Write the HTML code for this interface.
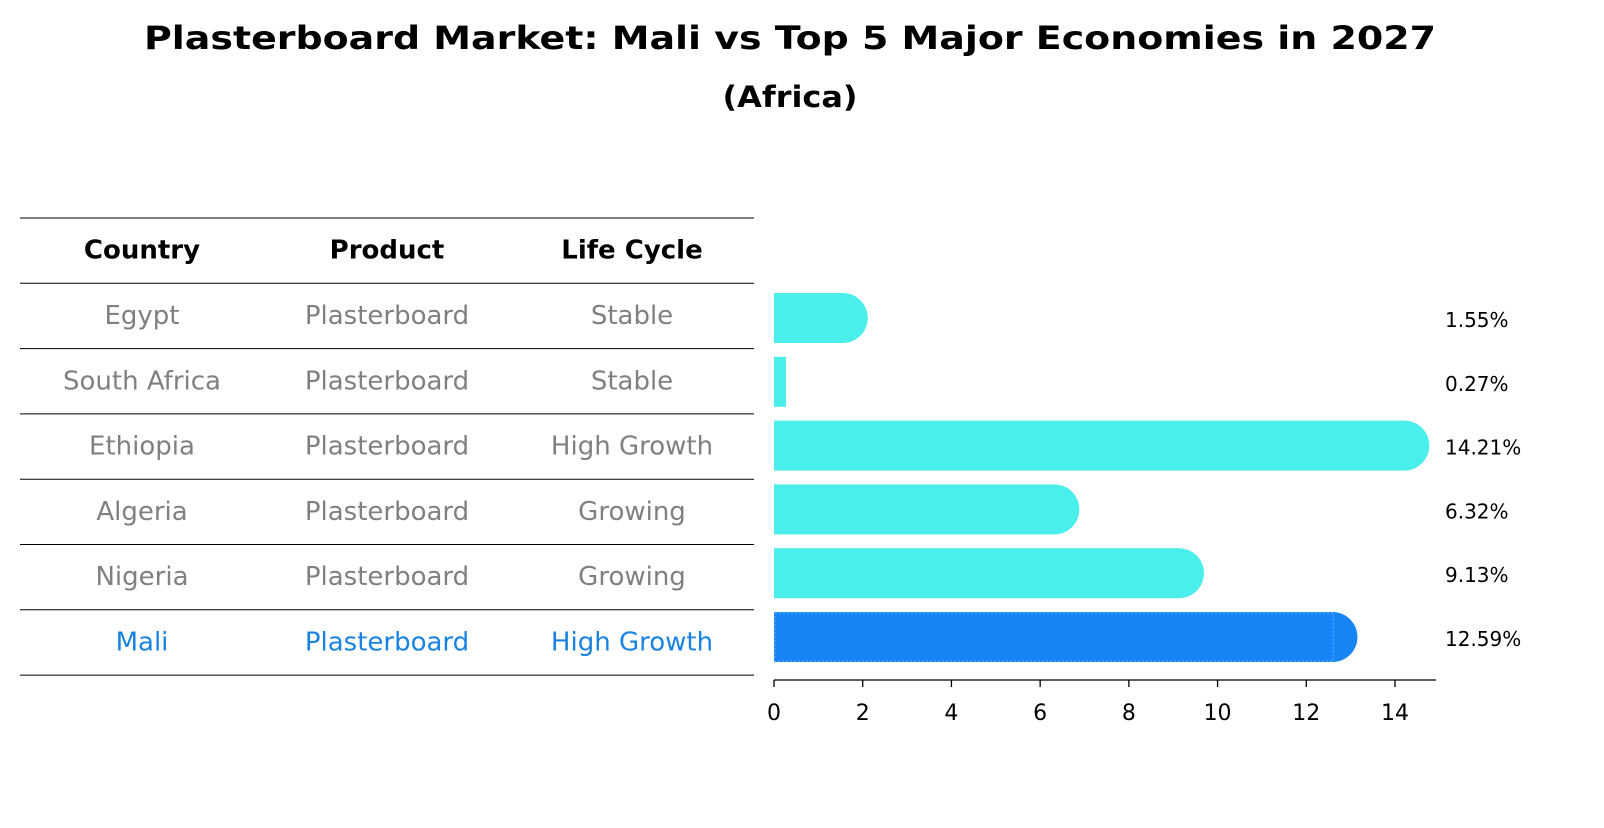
<!DOCTYPE html>
<html><head><meta charset="utf-8"><style>
body{margin:0;background:#fff;font-family:"Liberation Sans","DejaVu Sans",sans-serif;}
</style></head><body>
<svg width="1604" height="823" xmlns="http://www.w3.org/2000/svg" style="font-family:'DejaVu Sans','Liberation Sans',sans-serif">
<text x="790" y="49" text-anchor="middle" font-size="32" font-weight="bold" textLength="1292" lengthAdjust="spacingAndGlyphs">Plasterboard Market: Mali vs Top 5 Major Economies in 2027</text>
<text x="790" y="107" text-anchor="middle" font-size="29" font-weight="bold" textLength="135" lengthAdjust="spacingAndGlyphs">(Africa)</text>
<g id="table"></g>
<g id="bars"></g>
</svg>
<script>
const countries=["Egypt","South Africa","Ethiopia","Algeria","Nigeria","Mali"];
const products=["Plasterboard","Plasterboard","Plasterboard","Plasterboard","Plasterboard","Plasterboard"];
const lifeCycles=["Stable","Stable","High Growth","Growing","Growing","High Growth"];
const values=[1.55,0.27,14.21,6.32,9.13,12.59];
const valueLabels=["1.55%","0.27%","14.21%","6.32%","9.13%","12.59%"];
const ticks=[0,2,4,6,8,10,12,14];
const NS="http://www.w3.org/2000/svg";
function mk(tag,attrs,parent,text){const e=document.createElementNS(NS,tag);for(const k in attrs)e.setAttribute(k,attrs[k]);if(text!==undefined)e.textContent=text;parent.appendChild(e);return e;}
const tbl=document.getElementById('table'),bars=document.getElementById('bars');
const rowTop=218,rowH=65.3,cols=[142,387,632];
for(let i=0;i<=countries.length+1;i++){
  const l=mk('line',{x1:20,x2:754,y1:rowTop+i*rowH,y2:rowTop+i*rowH,stroke:'#000','stroke-width':1},tbl);
  
  
}
["Country","Product","Life Cycle"].forEach((h,j)=>{
  const t=mk('text',{x:cols[j],y:rowTop+rowH/2+8,'text-anchor':'middle','font-size':26,'font-weight':'bold'},tbl,h);
  
  
});
countries.forEach((c,i)=>{
  const y=rowTop+(i+1.5)*rowH+8;
  const col=c==="Mali"?"#1a82e0":"#808080";
  [c,products[i],lifeCycles[i]].forEach((v,j)=>{
    const t=mk('text',{x:cols[j],y:y,'text-anchor':'middle','font-size':26,fill:col},tbl,v);
    
    
  });
});
const x0=774,scale=(1395-774)/14;
const xs=v=>x0+v*scale;
const barH=50,centers=i=>318+i*63.8;
values.forEach((v,i)=>{
  const cy=centers(i),isMali=countries[i]==="Mali";
  const fill=isMali?"#1785f5":"#4aeeea";
  const g=mk('g',{},bars);
  
  
  mk('rect',{x:x0,y:cy-barH/2,width:xs(v)-x0,height:barH,fill:fill},g);
  if(v>1) mk('circle',{cx:xs(v),cy:cy,r:barH/2,fill:fill},g);
  if(isMali) mk('rect',{x:x0+1,y:cy-barH/2+1,width:xs(v)-x0,height:barH-2,fill:'none',stroke:'#4aa8ff','stroke-dasharray':'2,2','stroke-width':1.5},g);
  const t=mk('text',{x:1445,y:cy+9,'font-size':20},bars,valueLabels[i]);
  
  
});
const ax=mk('line',{x1:x0,x2:1436,y1:680,y2:680,stroke:'#000','stroke-width':1.3},bars);


ticks.forEach(tv=>{
  const tk=mk('line',{x1:xs(tv),x2:xs(tv),y1:680,y2:687,stroke:'#000','stroke-width':1.3},bars);
  
  
  const t=mk('text',{x:xs(tv),y:720,'text-anchor':'middle','font-size':22},bars,String(tv));
  
  
});
</script>
</body></html>
